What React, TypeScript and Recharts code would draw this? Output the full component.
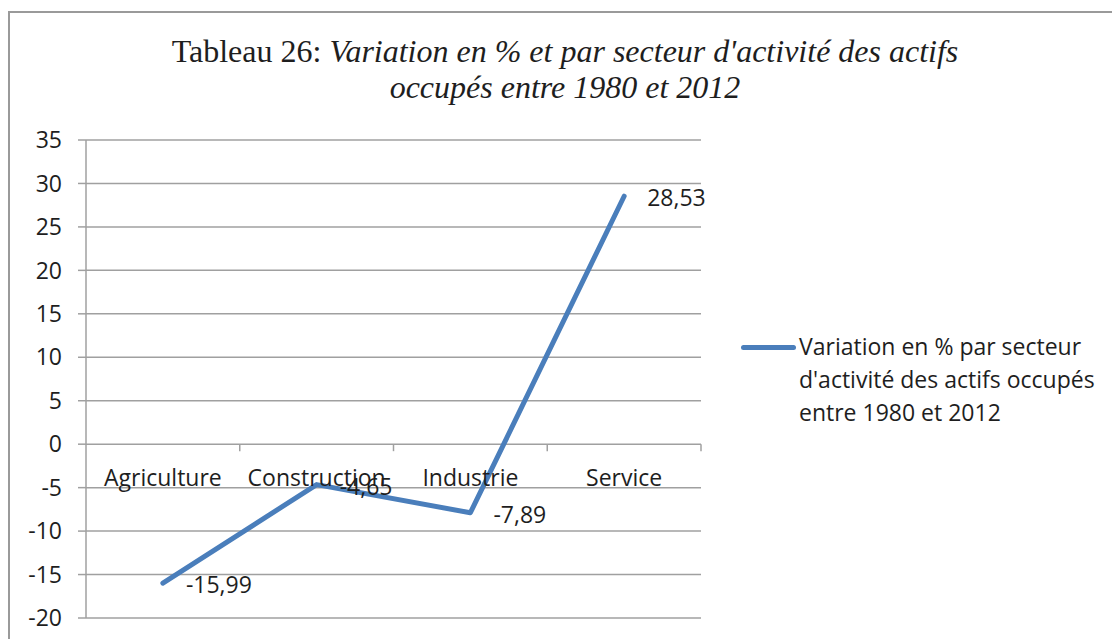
import React from 'react';
import { LineChart, Line, XAxis, YAxis, CartesianGrid, LabelList, ReferenceDot } from 'recharts';

const categories = ['Agriculture', 'Construction', 'Industrie', 'Service'];
const values = [-15.99, -4.65, -7.89, 28.53];
const yTicks = [-20, -15, -10, -5, 0, 5, 10, 15, 20, 25, 30, 35];
const titlePrefix = 'Tableau 26: ';
const titleItalic1 = "Variation en % et par secteur d'activité des actifs";
const titleItalic2 = 'occupés entre 1980 et 2012';
const legendLabel = "Variation en % par secteur d'activité des actifs occupés entre 1980 et 2012";

const data = categories.map((name, i) => ({ name, pos: i + 0.5, value: values[i] }));
const boundaries = categories.map((_, i) => i + 1);

const LINE_COLOR = '#4a7ebb';
const GRID = '#a0a0a0';
const TEXT = '#1e1e1e';
const FONT = '"Open Sans", sans-serif';
const FS = 23;

const fmt = (v: number) => String(v).replace('.', ',');

const DataLabel = (props: any) => {
  const { x, y, value } = props;
  return (
    <text x={x + 23} y={y + 10} fill={TEXT} fontFamily={FONT} fontSize={FS}>
      {fmt(value)}
    </text>
  );
};

export default function App() {
  return (
    <div style={{ position: 'absolute', left: 0, top: 0, width: 1112, height: 639, background: '#fff', overflow: 'hidden' }}>
      <div style={{ position: 'absolute', left: 8, top: 11, width: 1200, height: 700, border: '2px solid #9a9a9a', boxSizing: 'border-box' }} />
      <div style={{ position: 'absolute', left: 0, top: 33, width: 1130, textAlign: 'center', fontFamily: '"Liberation Serif", serif', fontSize: 32, lineHeight: '36px', color: TEXT }}>
        <div>{titlePrefix}<i>{titleItalic1}</i></div>
        <div><i>{titleItalic2}</i></div>
      </div>
      <div style={{ position: 'absolute', left: 0, top: 0 }}>
        <LineChart width={1112} height={639} data={data} margin={{ top: 140, right: 411, bottom: 21, left: 0 }}>
          <CartesianGrid vertical={false} stroke={GRID} strokeWidth={1.5} />
          <XAxis dataKey="pos" type="number" domain={[0, 4]} hide />
          <YAxis
            domain={[-20, 35]}
            ticks={yTicks}
            width={86}
            interval={0}
            tickSize={8}
            tickMargin={16}
            axisLine={{ stroke: GRID, strokeWidth: 1.5 }}
            tickLine={{ stroke: GRID, strokeWidth: 1.5 }}
            tick={{ fill: TEXT, fontFamily: FONT, fontSize: FS }}
            tickFormatter={(v: number) => String(v)}
          />
          {boundaries.map((b) => (
            <ReferenceDot
              key={'b' + b}
              x={b}
              y={0}
              r={0}
              ifOverflow="visible"
              shape={(p: any) => <line x1={p.cx} y1={p.cy} x2={p.cx} y2={p.cy + 7} stroke={GRID} strokeWidth={1.5} />}
            />
          ))}
          {data.map((d) => (
            <ReferenceDot
              key={d.name}
              x={d.pos}
              y={0}
              r={0}
              ifOverflow="visible"
              shape={(p: any) => (
                <text x={p.cx} y={p.cy + 42} textAnchor="middle" fill={TEXT} fontFamily={FONT} fontSize={FS}>
                  {d.name}
                </text>
              )}
            />
          ))}
          <Line
            type="linear"
            dataKey="value"
            stroke={LINE_COLOR}
            strokeWidth={5}
            strokeLinecap="round"
            strokeLinejoin="round"
            dot={false}
            activeDot={false}
            isAnimationActive={false}
          >
            <LabelList dataKey="value" content={DataLabel} />
          </Line>
        </LineChart>
      </div>
      <div style={{ position: 'absolute', left: 741, top: 330, display: 'flex', alignItems: 'flex-start' }}>
        <div style={{ width: 55, height: 5, background: LINE_COLOR, borderRadius: 3, marginTop: 15, marginRight: 3 }} />
        <div style={{ width: 300, fontFamily: FONT, fontSize: FS, lineHeight: '33px', color: TEXT }}>{legendLabel}</div>
      </div>
    </div>
  );
}
